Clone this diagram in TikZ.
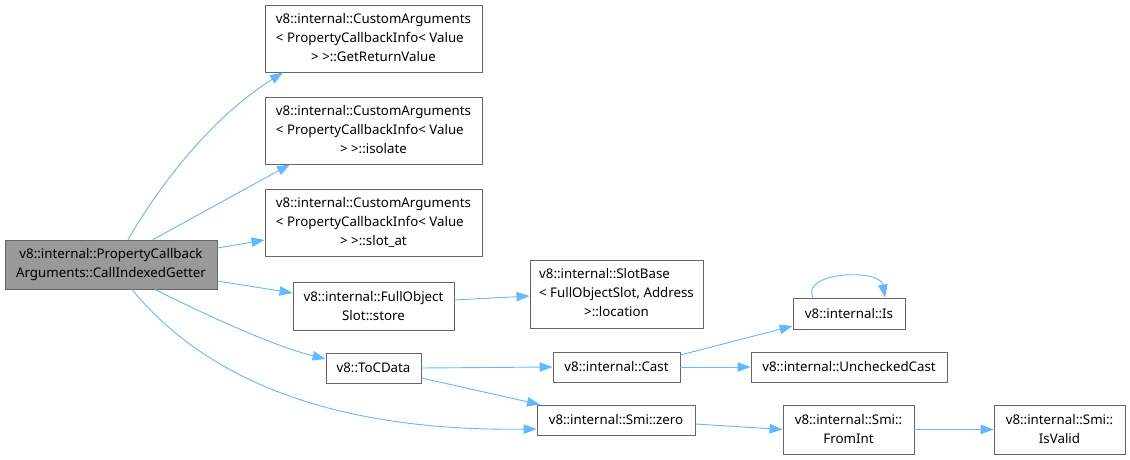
\documentclass[tikz,border=0pt]{standalone}
\usepackage{fontspec}
\setmainfont{Noto Sans}
\usetikzlibrary{arrows.meta}
\definecolor{edgeblue}{HTML}{63B8FF}
\definecolor{boxline}{HTML}{666666}
\definecolor{curfill}{HTML}{999999}
\newcommand{\tplname}[3]{\begin{tabular}{@{}l@{}}#1\\#2\\\multicolumn{1}{@{}c@{}}{#3}\end{tabular}}

\begin{document}
\begin{tikzpicture}[x=1pt,y=-1pt,>={Triangle[length=13pt,width=9.5pt]},
  fn/.style={draw=boxline,line width=0.9pt,fill=white,inner sep=0pt,align=center,
    font=\fontsize{13.3}{19}\selectfont},
  call/.style={->,draw=edgeblue,line width=0.9pt}]
  \useasboundingbox (0,0) rectangle (1130,460);
  % functions
  \node[fn,fill=curfill,minimum width=212pt,minimum height=49pt] (main) at (111,264.5)
    {v8::internal::PropertyCallback\\Arguments::CallIndexedGetter};
  \node[fn,minimum width=217pt,minimum height=67pt] (getret) at (373.5,38.5)
    {\tplname{v8::internal::CustomArguments}{< PropertyCallbackInfo< Value}{> >::GetReturnValue}};
  \node[fn,minimum width=217pt,minimum height=67pt] (isolate) at (373.5,130.5)
    {\tplname{v8::internal::CustomArguments}{< PropertyCallbackInfo< Value}{> >::isolate}};
  \node[fn,minimum width=217pt,minimum height=67pt] (slotat) at (373.5,222.5)
    {\tplname{v8::internal::CustomArguments}{< PropertyCallbackInfo< Value}{> >::slot\_at}};
  \node[fn,minimum width=161pt,minimum height=48pt] (store) at (373.5,306)
    {v8::internal::FullObject\\Slot::store};
  \node[fn,minimum width=173pt,minimum height=68pt] (location) at (616.5,294)
    {\tplname{v8::internal::SlotBase}{< FullObjectSlot, Address}{>::location}};
  \node[fn,minimum width=95pt,minimum height=30pt] (tocdata) at (373.5,368) {v8::ToCData};
  \node[fn,minimum width=127pt,minimum height=30pt] (cast) at (616.5,367) {v8::internal::Cast};
  \node[fn,minimum width=158pt,minimum height=30pt] (zero) at (616,420) {v8::internal::Smi::zero};
  \node[fn,minimum width=112pt,minimum height=31pt] (is) at (849,313.5) {v8::internal::Is};
  \node[fn,minimum width=196pt,minimum height=30pt] (unchecked) at (849,367) {v8::internal::UncheckedCast};
  \node[fn,minimum width=131pt,minimum height=49pt] (fromint) at (848.5,429.5)
    {v8::internal::Smi::\\FromInt};
  \node[fn,minimum width=131pt,minimum height=49pt] (isvalid) at (1059.5,429.5)
    {v8::internal::Smi::\\IsValid};
  % calls
  \draw[call] ([xshift=17pt]main.north) .. controls (148,205) and (200,125) .. ([xshift=-90.5pt]getret.south);
  \draw[call] ([xshift=42pt]main.north) -- ([xshift=-83.5pt]isolate.south);
  \draw[call] ([yshift=16.5pt]main.east) -- ([yshift=-17.5pt]slotat.west);
  \draw[call] ([yshift=-16.5pt]main.east) -- ([yshift=13pt]store.west);
  \draw[call] ([xshift=44pt]main.south) .. controls (200,312) and (270,345) .. ([yshift=9pt]tocdata.west);
  \draw[call] ([xshift=21pt]main.south) .. controls (190,360) and (300,432) .. ([yshift=-9pt]zero.west);
  \draw[call] ([yshift=6pt]store.east) -- ([yshift=-2pt]location.west);
  \draw[call] (tocdata.east) -- (cast.west);
  \draw[call] ([yshift=-10pt]tocdata.east) -- ([xshift=-76pt]zero.north);
  \draw[call] ([yshift=12pt]cast.east) -- ([yshift=-12.5pt]is.west);
  \draw[call] (cast.east) -- (unchecked.west);
  \draw[call] ([xshift=-36pt]is.north) .. controls (800,272) and (880,268) .. ([xshift=36pt]is.north);
  \draw[call] ([yshift=-4pt]zero.east) -- (fromint.west);
  \draw[call] (fromint.east) -- (isvalid.west);
\end{tikzpicture}
\end{document}
